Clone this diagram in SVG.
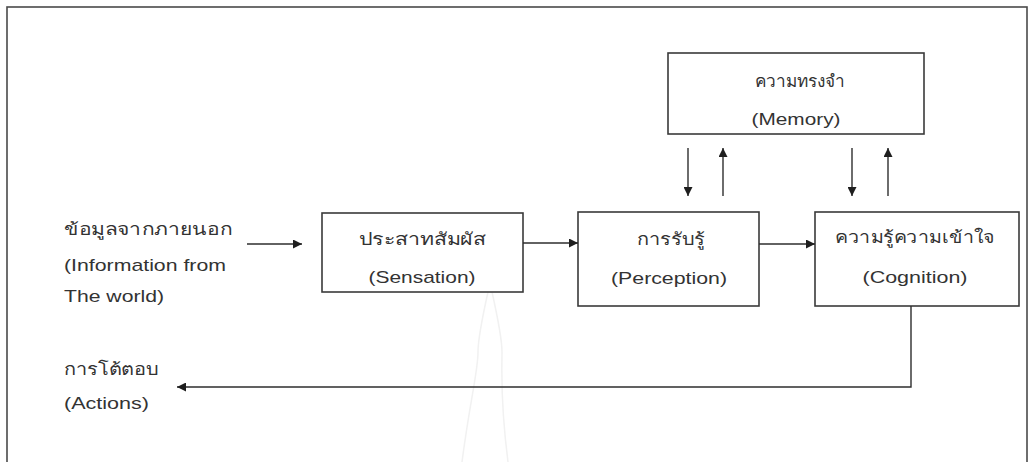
<svg xmlns="http://www.w3.org/2000/svg" width="1030" height="462" viewBox="0 0 1030 462">
  <style>
    .box { fill: #ffffff; stroke: #3a3a3a; stroke-width: 1.6; }
    .t { font-family: "Liberation Sans", "DejaVu Sans", Arial, sans-serif; font-size: 17px; fill: #333333; }
    .m { text-anchor: middle; }
    .conn { fill: none; stroke: #2e2e2e; stroke-width: 1.4; }
    .frame { fill: none; stroke: #4a4a4a; stroke-width: 1.6; }
    .wm { fill: none; stroke: #f1f1f1; stroke-width: 1.5; }
  </style>
  <defs>
    <marker id="ah" viewBox="0 0 10 10" refX="10" refY="5" markerWidth="9" markerHeight="9" markerUnits="userSpaceOnUse" orient="auto">
      <path d="M0,0 L10,5 L0,10 Z" fill="#1e1e1e"/>
    </marker>
  </defs>
  <rect width="1030" height="462" fill="#ffffff"/>
  <rect class="frame" x="7" y="7" width="1020" height="470"/>

  <g id="watermark">
    <path class="wm" d="M490,283 C484,310 478,335 478,352 C478,372 470,400 462,462"/>
    <path class="wm" d="M490,283 C496,310 502,335 502,352 C502,372 500,400 508,462"/>
  </g>

  <g id="input">
    <text class="t" x="64" y="235" textLength="168" lengthAdjust="spacingAndGlyphs">ข้อมูลจากภายนอก</text>
    <text class="t" x="64" y="271" textLength="162" lengthAdjust="spacingAndGlyphs">(Information from</text>
    <text class="t" x="64" y="302" textLength="100" lengthAdjust="spacingAndGlyphs">The world)</text>
  </g>

  <g id="actions">
    <text class="t" x="64" y="375" textLength="95" lengthAdjust="spacingAndGlyphs">การโต้ตอบ</text>
    <text class="t" x="64" y="409" textLength="85" lengthAdjust="spacingAndGlyphs">(Actions)</text>
  </g>

  <g id="memory">
    <rect class="box" x="668" y="53" width="256" height="81"/>
    <text class="t m" x="800" y="87" textLength="91" lengthAdjust="spacingAndGlyphs">ความทรงจำ</text>
    <text class="t m" x="796" y="125" textLength="89" lengthAdjust="spacingAndGlyphs">(Memory)</text>
  </g>

  <g id="sensation">
    <rect class="box" x="322" y="213" width="201" height="79"/>
    <text class="t m" x="422" y="245" textLength="127" lengthAdjust="spacingAndGlyphs">ประสาทสัมผัส</text>
    <text class="t m" x="422" y="283" textLength="107" lengthAdjust="spacingAndGlyphs">(Sensation)</text>
  </g>

  <g id="perception">
    <rect class="box" x="578" y="212" width="181" height="94"/>
    <text class="t m" x="671" y="245" textLength="68" lengthAdjust="spacingAndGlyphs">การรับรู้</text>
    <text class="t m" x="669" y="284" textLength="116" lengthAdjust="spacingAndGlyphs">(Perception)</text>
  </g>

  <g id="cognition">
    <rect class="box" x="815" y="212" width="204" height="94"/>
    <text class="t m" x="915" y="243" textLength="160" lengthAdjust="spacingAndGlyphs">ความรู้ความเข้าใจ</text>
    <text class="t m" x="915" y="283" textLength="105" lengthAdjust="spacingAndGlyphs">(Cognition)</text>
  </g>

  <g id="connectors">
    <line class="conn" x1="247" y1="244" x2="302" y2="244" marker-end="url(#ah)"/>
    <line class="conn" x1="523" y1="243" x2="578" y2="243" marker-end="url(#ah)"/>
    <line class="conn" x1="759" y1="244" x2="815" y2="244" marker-end="url(#ah)"/>
    <line class="conn" x1="688" y1="148" x2="688" y2="196" marker-end="url(#ah)"/>
    <line class="conn" x1="723" y1="196" x2="723" y2="148" marker-end="url(#ah)"/>
    <line class="conn" x1="852" y1="148" x2="852" y2="196" marker-end="url(#ah)"/>
    <line class="conn" x1="888" y1="196" x2="888" y2="148" marker-end="url(#ah)"/>
    <polyline class="conn" points="911,306 911,387 177,387" marker-end="url(#ah)"/>
  </g>
</svg>
